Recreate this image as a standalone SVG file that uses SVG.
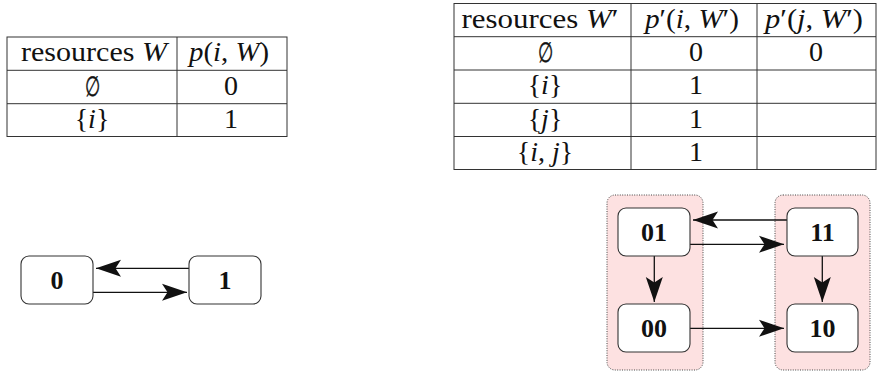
<svg xmlns="http://www.w3.org/2000/svg" width="877" height="375" viewBox="0 0 877 375">
<style>
.tl{stroke:#333;stroke-width:1;fill:none}
.tt{font-family:"Liberation Serif","Times New Roman",serif;font-size:28px;fill:#111;text-anchor:middle}
.it{font-style:italic}
.es{font-family:"DejaVu Serif",serif;font-size:28px;fill:#111;stroke:#111;stroke-width:0.5;text-anchor:middle}
.node{fill:#fff;stroke:#333;stroke-width:1.1}
.lbl{font-family:"Liberation Serif","Times New Roman",serif;font-size:26px;font-weight:bold;fill:#111;text-anchor:middle}
.cl{fill:#fde1e1;stroke:#444;stroke-width:1;stroke-dasharray:1 1.4}
.edge{stroke:#111;stroke-width:1.3;fill:none;marker-end:url(#ah)}
</style>
<defs>
<marker id="ah" markerUnits="userSpaceOnUse" viewBox="0 0 25 20" markerWidth="25" markerHeight="20" refX="25" refY="10" orient="auto">
<path d="M25,10 L0,1.5 L5.5,10 L0,18.5 Z" fill="#111"/>
</marker>
</defs>

<g id="table1">
<rect class="tl" x="7" y="37" width="280" height="99.5"/>
<line class="tl" x1="7" y1="70.3" x2="287" y2="70.3"/>
<line class="tl" x1="7" y1="103.7" x2="287" y2="103.7"/>
<line class="tl" x1="177" y1="37" x2="177" y2="136.5"/>
<text class="tt" x="94" y="61" textLength="146" lengthAdjust="spacingAndGlyphs">resources <tspan class="it">W</tspan></text>
<text class="tt" x="229" y="61" textLength="80" lengthAdjust="spacingAndGlyphs"><tspan class="it">p</tspan>(<tspan class="it">i</tspan>, <tspan class="it">W</tspan>)</text>
<text class="es" x="92" y="95.5" textLength="15" lengthAdjust="spacingAndGlyphs">∅</text>
<text class="tt" x="231" y="94.5">0</text>
<text class="tt" x="92" y="127.5"><tspan>{</tspan><tspan class="it">i</tspan><tspan>}</tspan></text>
<text class="tt" x="231" y="127.5">1</text>
</g>

<g id="table2">
<rect class="tl" x="454" y="3.5" width="422" height="166"/>
<line class="tl" x1="454" y1="36.7" x2="876" y2="36.7"/>
<line class="tl" x1="454" y1="70" x2="876" y2="70"/>
<line class="tl" x1="454" y1="103.3" x2="876" y2="103.3"/>
<line class="tl" x1="454" y1="136.5" x2="876" y2="136.5"/>
<line class="tl" x1="631" y1="3.5" x2="631" y2="169.5"/>
<line class="tl" x1="757" y1="3.5" x2="757" y2="169.5"/>
<text class="tt" x="540" y="27.5" textLength="157" lengthAdjust="spacingAndGlyphs">resources <tspan class="it">W</tspan>′</text>
<text class="tt" x="692" y="27.5" textLength="94" lengthAdjust="spacingAndGlyphs"><tspan class="it">p</tspan>′(<tspan class="it">i</tspan>, <tspan class="it">W</tspan>′)</text>
<text class="tt" x="814" y="27.5" textLength="98" lengthAdjust="spacingAndGlyphs"><tspan class="it">p</tspan>′(<tspan class="it">j</tspan>, <tspan class="it">W</tspan>′)</text>
<text class="es" x="545" y="62" textLength="15" lengthAdjust="spacingAndGlyphs">∅</text>
<text class="tt" x="696" y="61">0</text>
<text class="tt" x="816" y="61">0</text>
<text class="tt" x="545" y="94">{<tspan class="it">i</tspan>}</text>
<text class="tt" x="696" y="94">1</text>
<text class="tt" x="545" y="127.5">{<tspan class="it">j</tspan>}</text>
<text class="tt" x="696" y="127.5">1</text>
<text class="tt" x="545" y="160.5">{<tspan class="it">i</tspan>, <tspan class="it">j</tspan>}</text>
<text class="tt" x="696" y="160.5">1</text>
</g>

<g id="cluster-left"><rect class="cl" x="607" y="195" width="96" height="175" rx="8"/></g>
<g id="cluster-right"><rect class="cl" x="775" y="195" width="95" height="175" rx="8"/></g>

<g id="connectors">
<line class="edge" x1="189" y1="268.3" x2="96" y2="268.3"/>
<line class="edge" x1="93" y1="292.3" x2="187" y2="292.3"/>
<line class="edge" x1="787" y1="220" x2="693" y2="220"/>
<line class="edge" x1="690" y1="244.3" x2="784" y2="244.3"/>
<line class="edge" x1="654.3" y1="256" x2="654.3" y2="302"/>
<line class="edge" x1="822.3" y1="256" x2="822.3" y2="302"/>
<line class="edge" x1="690" y1="328.3" x2="784" y2="328.3"/>
</g>

<g id="n0"><rect class="node" x="21" y="256" width="72" height="48" rx="8"/><text class="lbl" x="57" y="289">0</text></g>
<g id="n1"><rect class="node" x="189" y="256" width="72" height="48" rx="8"/><text class="lbl" x="225" y="289">1</text></g>
<g id="n01"><rect class="node" x="618" y="208" width="72" height="48" rx="8"/><text class="lbl" x="654" y="241">01</text></g>
<g id="n00"><rect class="node" x="618" y="304" width="72" height="48" rx="8"/><text class="lbl" x="654" y="337">00</text></g>
<g id="n11"><rect class="node" x="787" y="208" width="71" height="48" rx="8"/><text class="lbl" x="822.5" y="241">11</text></g>
<g id="n10"><rect class="node" x="787" y="304" width="71" height="48" rx="8"/><text class="lbl" x="822.5" y="337">10</text></g>
</svg>
